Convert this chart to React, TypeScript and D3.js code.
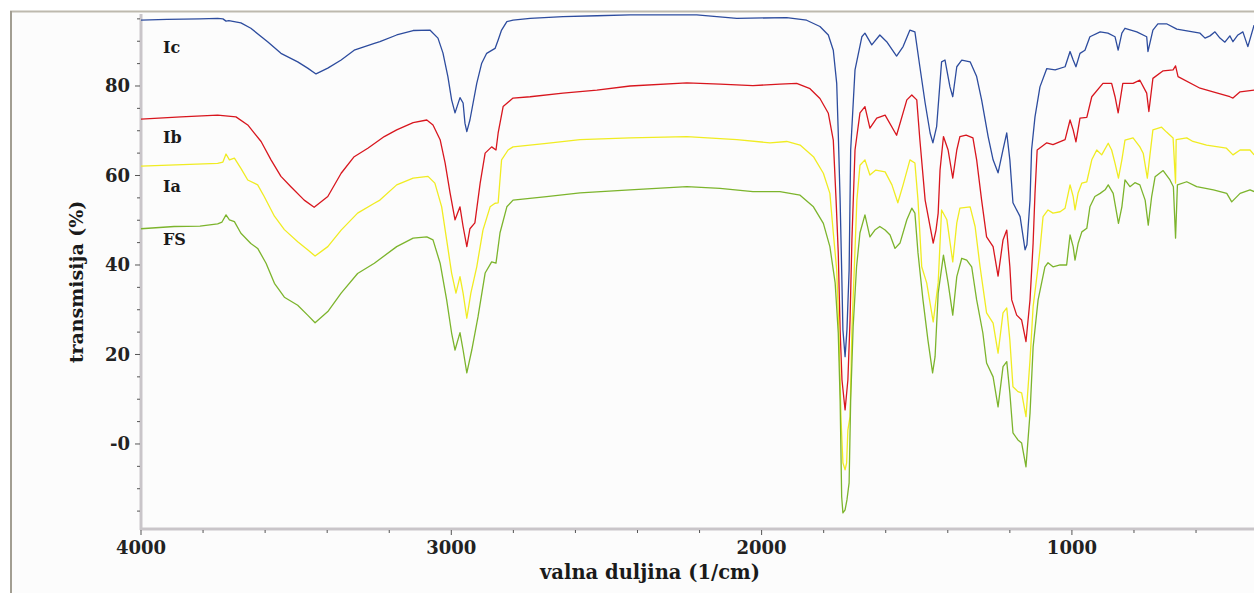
import React from "react";
import * as d3 from "d3";

// ---- data: [wavenumber (1/cm), transmission (%)] ----
const icData: [number, number][] = [
  [4000, 94.7], [3916, 94.9], [3810, 95.0], [3753, 95.1], [3736, 95.0], [3726, 94.5], [3717, 94.6],
  [3678, 94.1], [3646, 92.9], [3592, 89.9], [3549, 87.3], [3495, 85.4], [3463, 84.0], [3436, 82.7],
  [3398, 84.0], [3355, 85.8], [3313, 88.0], [3248, 89.5], [3230, 89.9], [3176, 91.4], [3123, 92.4],
  [3069, 92.5], [3043, 90.7], [3027, 87.4], [3011, 82.1], [2999, 76.9], [2988, 74.0], [2972, 77.4],
  [2962, 76.2], [2956, 71.7], [2950, 69.8], [2940, 72.4], [2918, 80.6], [2902, 85.1], [2886, 87.3],
  [2859, 88.4], [2849, 90.3], [2838, 92.5], [2821, 94.4], [2801, 94.7], [2746, 95.1], [2640, 95.5],
  [2531, 95.7], [2424, 95.9], [2209, 95.9], [2080, 95.1], [1919, 95.3], [1855, 94.7], [1812, 93.3],
  [1785, 91.4], [1769, 88.0], [1758, 80.6], [1753, 69.5], [1747, 54.5], [1742, 38.9], [1738, 25.5],
  [1731, 19.5], [1725, 25.5], [1718, 38.9], [1713, 65.7], [1699, 83.6], [1677, 91.0], [1667, 91.8],
  [1645, 89.2], [1619, 91.4], [1597, 89.9], [1565, 86.7], [1544, 88.8], [1522, 92.5], [1506, 92.1],
  [1490, 84.3], [1473, 76.2], [1457, 69.5], [1448, 67.3], [1436, 70.9], [1420, 85.4], [1409, 85.8],
  [1393, 79.8], [1384, 77.6], [1371, 84.3], [1355, 85.8], [1328, 85.4], [1307, 82.1], [1291, 76.9],
  [1270, 68.7], [1254, 63.5], [1238, 60.6], [1222, 65.8], [1210, 69.5], [1200, 63.5], [1190, 53.9],
  [1167, 50.8], [1151, 43.4], [1145, 44.5], [1135, 54.5], [1130, 65.7], [1119, 73.1], [1103, 79.8],
  [1081, 83.9], [1054, 83.6], [1022, 84.3], [1006, 87.7], [996, 85.8], [987, 84.3], [974, 87.3],
  [958, 88.0], [942, 91.0], [909, 92.1], [884, 91.8], [861, 91.0], [851, 88.0], [839, 91.8],
  [829, 92.9], [791, 92.1], [759, 91.0], [755, 87.7], [739, 92.5], [723, 93.9], [695, 93.9],
  [662, 92.7], [587, 91.8], [571, 90.7], [555, 91.2], [539, 92.1], [523, 90.7], [507, 89.8],
  [491, 91.2], [481, 89.9], [465, 91.4], [449, 92.1], [433, 88.8], [413, 93.6],
];

const ibData: [number, number][] = [
  [4000, 72.6], [3871, 73.1], [3753, 73.5], [3694, 73.1], [3656, 71.3], [3613, 67.6], [3581, 63.5],
  [3549, 59.8], [3517, 57.5], [3474, 54.5], [3442, 52.9], [3398, 55.3], [3355, 60.5], [3313, 64.2],
  [3269, 66.1], [3216, 68.7], [3176, 70.2], [3123, 71.8], [3079, 72.4], [3059, 71.3], [3036, 68.0],
  [3020, 62.8], [3004, 56.1], [2988, 50.1], [2972, 53.0], [2962, 48.6], [2950, 44.1], [2940, 48.1],
  [2924, 49.4], [2907, 58.3], [2891, 65.0], [2870, 66.4], [2856, 65.7], [2849, 69.5], [2833, 75.4],
  [2801, 77.3], [2746, 77.6], [2640, 78.4], [2531, 79.1], [2424, 80.0], [2241, 80.7], [2134, 80.4],
  [2028, 80.1], [1941, 80.4], [1887, 80.6], [1844, 79.4], [1812, 77.2], [1785, 73.9], [1769, 67.9],
  [1760, 54.5], [1753, 42.7], [1747, 25.5], [1741, 14.3], [1731, 7.6], [1722, 14.3], [1715, 27.7],
  [1709, 45.6], [1699, 65.7], [1683, 74.0], [1667, 75.4], [1651, 70.6], [1629, 72.8], [1602, 73.5],
  [1565, 69.0], [1532, 76.9], [1516, 78.0], [1500, 76.9], [1490, 68.0], [1473, 54.5], [1457, 48.6],
  [1447, 44.9], [1438, 47.8], [1431, 51.6], [1425, 61.2], [1414, 68.7], [1399, 65.7], [1384, 59.4],
  [1371, 65.7], [1361, 68.7], [1341, 69.0], [1319, 68.4], [1307, 63.5], [1291, 54.5], [1275, 46.3],
  [1254, 44.1], [1238, 37.5], [1222, 45.6], [1210, 47.8], [1200, 39.6], [1194, 32.2], [1178, 28.8],
  [1162, 27.7], [1148, 22.9], [1135, 32.2], [1125, 44.9], [1119, 56.0], [1112, 65.7], [1081, 67.3],
  [1061, 66.9], [1022, 68.0], [1006, 72.4], [996, 70.2], [987, 67.5], [974, 72.8], [952, 73.0],
  [936, 77.6], [900, 80.6], [872, 80.6], [861, 77.6], [851, 74.0], [836, 80.6], [803, 80.6],
  [781, 81.3], [759, 78.4], [752, 74.3], [739, 81.7], [706, 83.4], [674, 83.6], [666, 84.5],
  [658, 82.1], [587, 79.5], [545, 78.7], [491, 77.6], [481, 77.3], [458, 78.7], [413, 79.1],
];

const iaData: [number, number][] = [
  [4000, 62.1], [3753, 62.7], [3736, 63.0], [3726, 64.8], [3715, 63.5], [3699, 63.9], [3678, 61.6],
  [3656, 59.0], [3624, 57.9], [3603, 55.3], [3570, 50.9], [3538, 47.9], [3495, 45.2], [3463, 43.4],
  [3439, 42.0], [3398, 44.1], [3355, 47.8], [3302, 51.6], [3248, 53.8], [3230, 54.5], [3176, 57.9],
  [3123, 59.4], [3075, 59.8], [3053, 58.3], [3031, 53.0], [3015, 45.6], [2999, 38.2], [2985, 33.7],
  [2972, 37.4], [2962, 33.7], [2950, 28.1], [2937, 33.7], [2918, 39.6], [2898, 47.8], [2875, 53.0],
  [2859, 53.8], [2849, 53.9], [2838, 63.5], [2817, 65.7], [2801, 66.4], [2693, 67.2], [2585, 68.0],
  [2424, 68.4], [2241, 68.7], [2080, 68.0], [1973, 67.3], [1919, 67.6], [1876, 66.8], [1833, 64.2],
  [1801, 60.5], [1780, 56.0], [1769, 47.2], [1758, 38.9], [1751, 25.5], [1744, 5.4], [1738, -4.2],
  [1731, -5.8], [1726, -4.2], [1722, 3.1], [1715, 6.1], [1709, 25.5], [1699, 43.4], [1693, 54.5],
  [1683, 62.3], [1667, 63.5], [1651, 60.1], [1632, 61.2], [1602, 60.8], [1580, 57.9], [1561, 53.9],
  [1544, 57.9], [1522, 63.5], [1506, 62.8], [1496, 54.5], [1484, 39.6], [1468, 36.0], [1447, 27.3],
  [1431, 36.0], [1420, 52.3], [1403, 50.1], [1384, 40.7], [1371, 49.4], [1361, 52.7], [1328, 53.0],
  [1312, 48.6], [1296, 39.6], [1275, 29.3], [1254, 27.0], [1238, 20.3], [1222, 29.3], [1210, 30.4],
  [1200, 23.2], [1190, 12.8], [1174, 11.7], [1162, 11.4], [1148, 6.1], [1135, 18.8], [1125, 30.7],
  [1109, 39.6], [1103, 43.4], [1093, 50.8], [1077, 52.3], [1061, 51.6], [1038, 51.9], [1022, 52.7],
  [1006, 57.9], [996, 55.3], [990, 52.3], [980, 56.1], [968, 58.3], [952, 58.6], [936, 63.5],
  [920, 65.7], [904, 64.6], [883, 67.2], [872, 65.7], [861, 62.7], [850, 59.4], [839, 63.5],
  [829, 67.9], [803, 68.4], [781, 66.4], [770, 64.9], [757, 59.4], [748, 64.9], [739, 70.2],
  [711, 70.8], [695, 69.7], [674, 68.4], [666, 58.3], [664, 68.0], [630, 68.4], [610, 67.6],
  [566, 66.8], [502, 66.1], [481, 64.6], [458, 65.7], [426, 65.7], [413, 64.6],
];

const fsData: [number, number][] = [
  [4000, 48.1], [3893, 48.6], [3810, 48.7], [3753, 49.2], [3739, 49.6], [3726, 51.2], [3715, 50.1],
  [3699, 49.7], [3678, 47.1], [3646, 44.8], [3624, 43.7], [3597, 40.4], [3570, 35.9], [3538, 32.8],
  [3495, 31.0], [3463, 28.8], [3439, 27.1], [3398, 29.6], [3355, 33.7], [3302, 38.1], [3248, 40.4],
  [3176, 44.1], [3123, 46.0], [3079, 46.3], [3059, 45.6], [3036, 40.4], [3015, 32.2], [2999, 24.8],
  [2988, 21.0], [2972, 24.9], [2962, 21.0], [2950, 15.9], [2934, 21.0], [2914, 28.4], [2891, 38.2],
  [2870, 40.7], [2856, 40.4], [2843, 47.2], [2821, 53.0], [2801, 54.5], [2693, 55.3], [2585, 56.1],
  [2424, 56.8], [2241, 57.5], [2134, 57.1], [2028, 56.4], [1941, 56.4], [1876, 55.6], [1833, 53.0],
  [1801, 49.3], [1780, 44.1], [1763, 36.0], [1753, 24.8], [1747, 9.8], [1742, -11.8], [1738, -15.4],
  [1731, -14.7], [1725, -12.5], [1718, -8.7], [1713, 9.8], [1705, 26.2], [1694, 39.6], [1683, 47.2],
  [1667, 51.2], [1651, 46.3], [1635, 47.8], [1619, 48.6], [1602, 47.8], [1586, 46.7], [1570, 43.7],
  [1554, 44.9], [1532, 50.1], [1516, 52.7], [1506, 51.6], [1496, 42.7], [1480, 32.2], [1464, 23.2],
  [1449, 15.9], [1441, 19.5], [1431, 33.7], [1414, 42.2], [1399, 36.0], [1384, 28.8], [1371, 37.4],
  [1355, 41.5], [1339, 41.1], [1323, 39.6], [1307, 32.2], [1287, 24.8], [1275, 18.1], [1254, 15.0],
  [1238, 8.3], [1222, 17.3], [1210, 18.4], [1200, 11.4], [1190, 2.5], [1174, 0.9], [1162, 0.2],
  [1148, -5.1], [1135, 6.9], [1125, 21.7], [1109, 32.2], [1087, 39.6], [1077, 40.5], [1061, 39.6],
  [1038, 40.0], [1017, 40.0], [1006, 46.7], [996, 44.1], [990, 41.1], [980, 44.8], [968, 47.4],
  [952, 48.2], [942, 53.0], [926, 55.3], [909, 56.0], [893, 56.8], [883, 57.9], [867, 56.0],
  [850, 49.3], [839, 53.0], [829, 59.0], [813, 57.5], [797, 58.4], [781, 57.9], [764, 54.5],
  [754, 48.9], [743, 55.3], [732, 59.7], [706, 61.1], [684, 59.0], [673, 57.5], [666, 46.0],
  [660, 57.9], [630, 58.6], [598, 57.5], [544, 56.8], [501, 56.0], [485, 54.1], [458, 56.0],
  [426, 56.8], [413, 56.4],
];

const seriesNames = ["Ic", "Ib", "Ia", "FS"];
const seriesColors = ["#2d4c9e", "#d8161e", "#f0ec22", "#7cb42c"];
const seriesData = [icData, ibData, iaData, fsData];
const labelValues = [87.4, 67.3, 56.4, 44.5];

const xMajorTicks = [4000, 3000, 2000, 1000];
const yMajorTicks = [80, 60, 40, 20, 0];
const yTickLabels = ["80", "60", "40", "20", "-0"];
const xTitle = "valna duljina (1/cm)";
const yTitle = "transmisija (%)";

const W = 1254;
const H = 593;

export default function App() {
  const x = d3.scaleLinear().domain([4000, 400]).range([141, 1258.1]);
  const y = d3.scaleLinear().domain([-19, 96]).range([529, 14.4]);

  const line = d3
    .line<[number, number]>()
    .x((d) => x(d[0]))
    .y((d) => y(d[1]));

  const xMinor = d3.range(4000, 399, -200);
  const yMinor = d3.range(-15, 96, 5);
  const font = "'DejaVu Serif', serif";

  return (
    <div style={{ position: "absolute", left: 0, top: 0 }}>
      <svg width={W} height={H} style={{ display: "block" }}>
        <rect x={0} y={0} width={W} height={H} fill="#ffffff" />
        <rect x={10} y={11} width={W - 10} height={H - 11} fill="#fcfcfc" />
        <line x1={10} y1={11.5} x2={W} y2={11.5} stroke="#bdb9ae" strokeWidth={2} />
        <line x1={11} y1={11} x2={11} y2={H} stroke="#a29e92" strokeWidth={2} />

        {/* axes lines */}
        <line x1={141} y1={14} x2={141} y2={530} stroke="#c9c5c9" strokeWidth={3} />
        <line x1={140} y1={529} x2={W} y2={529} stroke="#c9c5c9" strokeWidth={3} />

        {/* y ticks */}
        {yMinor.map((v) => {
          const major = v % 20 === 0;
          return (
            <line
              key={"ym" + v}
              x1={major ? 135 : 137}
              x2={140}
              y1={y(v)}
              y2={y(v)}
              stroke="#555"
              strokeWidth={1}
            />
          );
        })}
        {yMajorTicks.map((v, i) => (
          <text
            key={"yl" + v}
            x={130}
            y={y(v)}
            textAnchor="end"
            dominantBaseline="central"
            fontFamily={font}
            fontWeight="bold"
            fontSize={18}
            fill="#222"
          >
            {yTickLabels[i]}
          </text>
        ))}

        {/* x ticks */}
        {xMinor.map((v) => {
          const major = v % 1000 === 0;
          return (
            <line
              key={"xm" + v}
              x1={x(v)}
              x2={x(v)}
              y1={530}
              y2={major ? 535 : 533}
              stroke="#555"
              strokeWidth={1}
            />
          );
        })}
        {xMajorTicks.map((v) => (
          <text
            key={"xl" + v}
            x={x(v)}
            y={554}
            textAnchor="middle"
            fontFamily={font}
            fontWeight="bold"
            fontSize={18}
            fill="#222"
          >
            {v}
          </text>
        ))}

        {/* titles */}
        <text
          x={650}
          y={579}
          textAnchor="middle"
          fontFamily={font}
          fontWeight="bold"
          fontSize={19.5}
          fill="#1a1a1a"
        >
          {xTitle}
        </text>
        <text
          transform="translate(83,282) rotate(-90)"
          textAnchor="middle"
          fontFamily={font}
          fontWeight="bold"
          fontSize={19}
          fill="#1a1a1a"
        >
          {yTitle}
        </text>

        {/* spectra */}
        {seriesData.map((d, i) => (
          <path
            key={seriesNames[i]}
            d={line(d) || ""}
            fill="none"
            stroke={seriesColors[i]}
            strokeWidth={1.3}
            strokeLinejoin="round"
          />
        ))}

        {/* series labels */}
        {seriesNames.map((n, i) => (
          <text
            key={"lab" + n}
            x={163}
            y={y(labelValues[i])}
            fontFamily={font}
            fontWeight="bold"
            fontSize={16}
            fill="#1a1a1a"
          >
            {n}
          </text>
        ))}
      </svg>
    </div>
  );
}
